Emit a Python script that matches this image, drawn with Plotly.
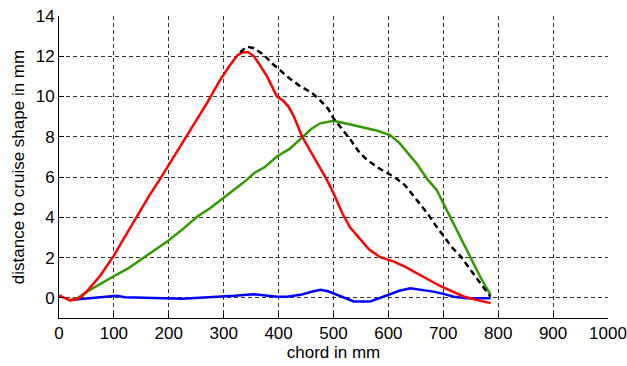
import plotly.graph_objects as go

red_x = [0, 10, 20, 30, 40, 50, 60, 75, 90, 100, 115, 130, 147, 165, 184, 200, 226, 250, 270, 293, 310, 325, 335, 345, 355, 365, 379, 397, 408, 418, 428, 443, 460, 476, 488, 500, 516, 530, 549, 565, 585, 610, 630, 646, 660, 680, 694, 715, 737, 760, 786]
red_y = [0.12, 0.0, -0.13, -0.08, 0.05, 0.3, 0.6, 1.1, 1.7, 2.1, 2.8, 3.5, 4.3, 5.1, 5.9, 6.6, 7.8, 8.8, 9.7, 10.8, 11.5, 12.05, 12.2, 12.2, 12.0, 11.6, 11.0, 10.0, 9.8, 9.5, 9.0, 8.0, 7.2, 6.4, 5.86, 5.2, 4.2, 3.5, 2.88, 2.4, 2.02, 1.8, 1.55, 1.31, 1.06, 0.8, 0.6, 0.35, 0.07, -0.1, -0.26]

black_x = [330, 342, 355, 373, 390, 403, 420, 440, 460, 476, 490, 500, 515, 531, 545, 561, 585, 610, 630, 650, 671, 686, 701, 716, 732, 748, 762, 775, 786]
black_y = [12.2, 12.48, 12.4, 12.07, 11.6, 11.3, 10.9, 10.5, 10.2, 9.8, 9.4, 8.92, 8.4, 7.85, 7.3, 6.85, 6.4, 6.02, 5.6, 4.9, 4.2, 3.6, 3.04, 2.5, 2.05, 1.45, 0.89, 0.45, 0.06]

green_x = [20, 35, 51, 75, 99, 125, 148, 175, 197, 225, 252, 275, 294, 320, 342, 355, 375, 397, 420, 440, 460, 476, 500, 525, 548, 580, 603, 620, 635, 651, 672, 688, 700, 712, 728, 743, 755, 767, 786]
green_y = [-0.12, 0.0, 0.31, 0.7, 1.06, 1.45, 1.89, 2.4, 2.8, 3.4, 4.04, 4.45, 4.87, 5.4, 5.86, 6.19, 6.5, 7.02, 7.4, 7.9, 8.4, 8.67, 8.8, 8.65, 8.5, 8.3, 8.09, 7.7, 7.2, 6.69, 5.86, 5.36, 4.7, 4.04, 3.2, 2.38, 1.7, 1.06, 0.15]

blue_x = [20, 40, 60, 75, 90, 105, 120, 150, 175, 197, 225, 256, 292, 320, 354, 375, 397, 415, 440, 460, 476, 490, 500, 515, 537, 567, 580, 597, 620, 640, 660, 682, 700, 719, 743, 765, 786]
blue_y = [-0.1, -0.05, 0.0, 0.03, 0.05, 0.1, 0.03, 0.0, -0.03, -0.05, -0.05, 0.0, 0.05, 0.1, 0.18, 0.12, 0.05, 0.05, 0.15, 0.3, 0.4, 0.33, 0.23, 0.05, -0.18, -0.18, -0.05, 0.15, 0.35, 0.48, 0.4, 0.31, 0.2, 0.06, -0.02, -0.02, -0.02]

x_ticks = [0, 100, 200, 300, 400, 500, 600, 700, 800, 900, 1000]
y_ticks = [0, 2, 4, 6, 8, 10, 12, 14]

fig = go.Figure()
fig.add_trace(go.Scatter(x=blue_x, y=blue_y, mode="lines", line=dict(color="#0000FF", width=2.5)))
fig.add_trace(go.Scatter(x=green_x, y=green_y, mode="lines", line=dict(color="#339900", width=2.5)))
fig.add_trace(go.Scatter(x=red_x, y=red_y, mode="lines", line=dict(color="#FF0000", width=2.5)))
fig.add_trace(go.Scatter(x=black_x, y=black_y, mode="lines", line=dict(color="#000000", width=2.5, dash="6px,4px")))

font = dict(family="Liberation Sans, Arial, sans-serif", size=17, color="#000000")
axis_common = dict(
    showline=True, linecolor="#000000", linewidth=1,
    ticks="inside", ticklen=5, tickcolor="#000000",
    showgrid=True, gridcolor="#333333", gridwidth=1, griddash="4px,3px",
    zeroline=False, tickfont=font, automargin=False,
)
fig.update_layout(
    width=627, height=366,
    margin=dict(l=59, r=19, t=16, b=48),
    paper_bgcolor="white", plot_bgcolor="white",
    showlegend=False, font=font,
    xaxis=dict(range=[0, 1000], tickvals=x_ticks, ticktext=[str(v) for v in x_ticks],
               title=dict(text="chord in mm", font=font, standoff=2), **axis_common),
    yaxis=dict(range=[-1, 14], tickvals=y_ticks, ticktext=[str(v) for v in y_ticks],
               title=dict(text="distance to cruise shape in mm", font=font, standoff=6), **axis_common),
)
fig.write_html("out.html", config={"displayModeBar": False},
               post_script="document.body.style.margin='0';document.body.style.padding='0';")
